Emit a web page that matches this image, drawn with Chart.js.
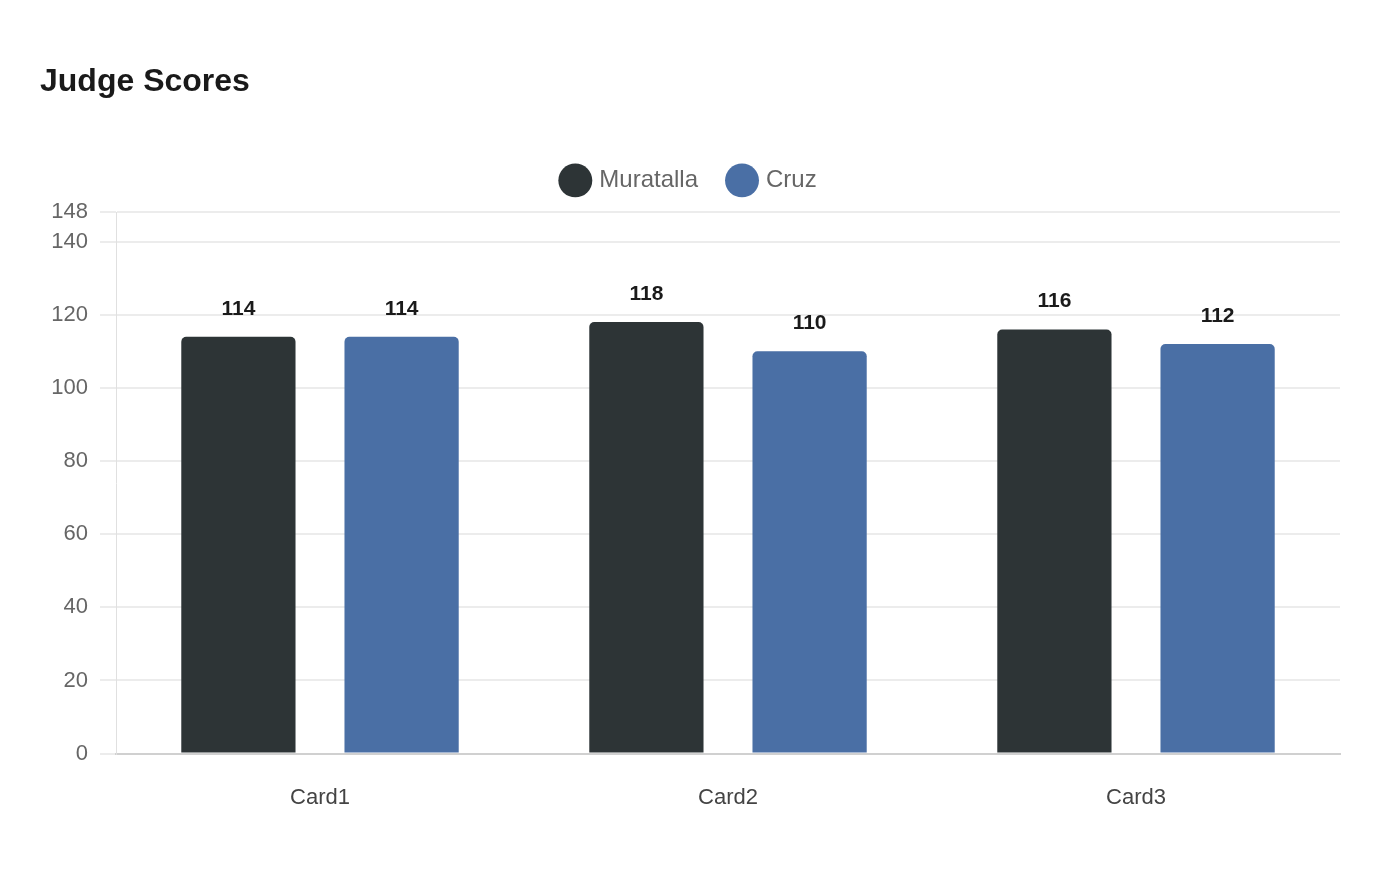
<!DOCTYPE html>
<html>
<head>
<meta charset="utf-8">
<script src="https://cdn.jsdelivr.net/npm/chart.js@4/dist/chart.umd.min.js"></script>
<style>
html,body{margin:0;padding:0;background:#fff;}
#wrap{width:1400px;height:880px;position:relative;}
</style>
</head>
<body>
<div id="wrap"><canvas id="c" width="1400" height="880"></canvas></div>
<script>
const categories = ["Card1", "Card2", "Card3"];
const seriesNames = ["Muratalla", "Cruz"];
const muratalla = [114, 118, 116];
const cruz = [114, 110, 112];
const yTicks = [0, 20, 40, 60, 80, 100, 120, 140, 148];
const colors = ["#2d3436", "#4a6fa5"];

const valueLabels = {
  id: 'valueLabels',
  afterDatasetsDraw(chart) {
    const ctx = chart.ctx;
    ctx.save();
    ctx.font = 'bold 21px "Liberation Sans", Arial, sans-serif';
    ctx.fillStyle = '#1a1a1a';
    ctx.textAlign = 'center';
    ctx.textBaseline = 'middle';
    chart.data.datasets.forEach((ds, di) => {
      const meta = chart.getDatasetMeta(di);
      meta.data.forEach((bar, i) => {
        ctx.fillText(String(ds.data[i]), bar.x, bar.y - 28);
      });
    });
    ctx.restore();
  }
};

const legendSpacer = {
  id: 'legendSpacer',
  beforeInit(chart) {
    const lg = chart.legend;
    if (!lg) return;
    const origFit = lg.fit;
    lg.fit = function () {
      origFit.call(this);
      this.height += 10;
    };
  }
};

new Chart(document.getElementById('c'), {
  type: 'bar',
  data: {
    labels: categories,
    datasets: [
      { label: seriesNames[0], data: muratalla, backgroundColor: colors[0], borderRadius: {topLeft: 5, topRight: 5}, borderSkipped: 'bottom', categoryPercentage: 0.8, barPercentage: 0.7 },
      { label: seriesNames[1], data: cruz, backgroundColor: colors[1], borderRadius: {topLeft: 5, topRight: 5}, borderSkipped: 'bottom', categoryPercentage: 0.8, barPercentage: 0.7 }
    ]
  },
  options: {
    responsive: false,
    animation: false,
    devicePixelRatio: 1,
    layout: { padding: { left: 40, right: 60, top: 0, bottom: 46 } },
    plugins: {
      title: {
        display: true,
        text: 'Judge Scores',
        align: 'start',
        color: '#1a1a1a',
        font: { family: '"Liberation Sans", Arial, sans-serif', size: 32, weight: 'bold' },
        padding: { top: 63, bottom: 35 }
      },
      legend: {
        display: true,
        labels: {
          usePointStyle: true,
          pointStyle: 'circle',
          boxHeight: 24,
          color: '#666',
          padding: 32,
          font: { family: '"Liberation Sans", Arial, sans-serif', size: 24 }
        }
      },
      tooltip: { enabled: false }
    },
    scales: {
      x: {
        grid: { display: false },
        border: { color: '#d0d0d0', width: 2 },
        ticks: { color: '#444', padding: 23, font: { family: '"Liberation Sans", Arial, sans-serif', size: 22 } }
      },
      y: {
        min: 0,
        max: 148,
        afterBuildTicks(scale) { scale.ticks = yTicks.map(v => ({ value: v })); },
        afterFit(scale) { scale.width = 76; },
        grid: { color: '#ececec', lineWidth: 2, tickLength: 16 },
        border: { color: '#e0e0e0', width: 1 },
        ticks: { color: '#666', padding: 12, font: { family: '"Liberation Sans", Arial, sans-serif', size: 22 } }
      }
    }
  },
  plugins: [legendSpacer, valueLabels]
});
</script>
</body>
</html>
